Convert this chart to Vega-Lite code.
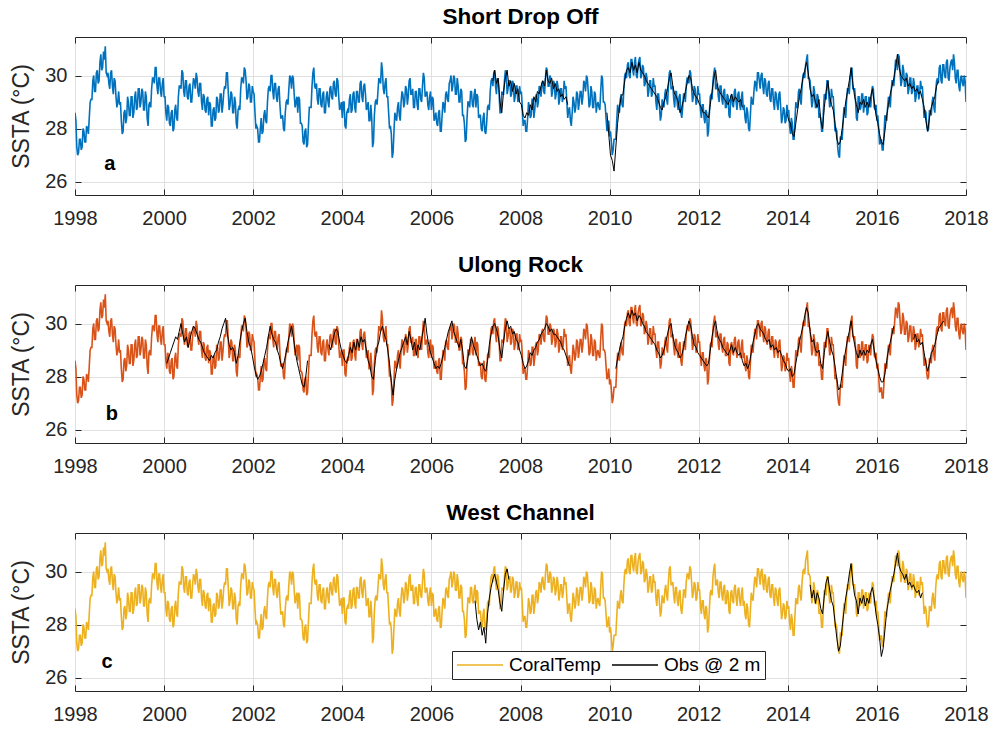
{
"$schema": "https://vega.github.io/schema/vega-lite/v6.json",
"background": "white",
"padding": {"left": 10, "top": 5, "right": 5, "bottom": 0},
"config": {
  "font": "Liberation Sans",
  "view": {"stroke": "#262626", "strokeWidth": 1},
  "axis": {"domain": false, "grid": true, "gridColor": "#e0e0e0", "gridWidth": 1, "tickColor": "#262626", "tickSize": -6, "labelFontSize": 20, "labelColor": "#262626", "titleFontSize": 23, "titleFontWeight": "normal", "titleColor": "#262626", "labelFont": "Liberation Sans", "titleFont": "Liberation Sans", "labelFlush": false},
  "axisX": {"labelPadding": 19},
  "axisY": {"labelPadding": 14, "titlePadding": 11},
  "title": {"fontSize": 22.5, "fontWeight": "bold", "font": "Liberation Sans", "color": "black", "anchor": "middle", "offset": 8},
  "concat": {"spacing": 24}
},
"resolve": {"scale": {"color": "independent"}, "legend": {"color": "independent"}},
"datasets": {
"ct": [
{"t":1998.00,"v":28.6},{"t":1998.04,"v":27.3},{"t":1998.08,"v":27.1},{"t":1998.12,"v":27.6},{"t":1998.16,"v":27.3},{"t":1998.20,"v":27.9},{"t":1998.24,"v":27.5},{"t":1998.28,"v":28.0},{"t":1998.32,"v":28.4},{"t":1998.36,"v":29.1},{"t":1998.40,"v":29.8},{"t":1998.44,"v":29.4},{"t":1998.48,"v":30.1},{"t":1998.52,"v":29.7},{"t":1998.56,"v":30.5},{"t":1998.60,"v":30.2},{"t":1998.64,"v":30.9},{"t":1998.68,"v":31.1},{"t":1998.72,"v":30.0},{"t":1998.76,"v":29.7},{"t":1998.80,"v":30.1},{"t":1998.84,"v":29.6},{"t":1998.88,"v":29.9},{"t":1998.92,"v":29.2},{"t":1998.96,"v":29.0},
{"t":1999.00,"v":28.9},{"t":1999.04,"v":28.3},{"t":1999.08,"v":27.9},{"t":1999.12,"v":28.7},{"t":1999.16,"v":28.4},{"t":1999.20,"v":29.0},{"t":1999.24,"v":28.5},{"t":1999.28,"v":29.2},{"t":1999.32,"v":28.6},{"t":1999.36,"v":29.4},{"t":1999.40,"v":28.8},{"t":1999.44,"v":29.5},{"t":1999.48,"v":29.0},{"t":1999.52,"v":29.4},{"t":1999.56,"v":28.7},{"t":1999.60,"v":29.2},{"t":1999.64,"v":28.1},{"t":1999.68,"v":29.0},{"t":1999.72,"v":29.5},{"t":1999.76,"v":29.9},{"t":1999.80,"v":30.3},{"t":1999.84,"v":29.6},{"t":1999.88,"v":29.9},{"t":1999.92,"v":29.4},{"t":1999.96,"v":29.7},
{"t":2000.00,"v":29.2},{"t":2000.04,"v":28.6},{"t":2000.08,"v":28.9},{"t":2000.12,"v":28.2},{"t":2000.16,"v":28.6},{"t":2000.20,"v":27.9},{"t":2000.24,"v":28.7},{"t":2000.28,"v":28.4},{"t":2000.32,"v":29.2},{"t":2000.36,"v":29.6},{"t":2000.40,"v":30.2},{"t":2000.44,"v":29.4},{"t":2000.48,"v":29.8},{"t":2000.52,"v":29.2},{"t":2000.56,"v":29.6},{"t":2000.60,"v":29.0},{"t":2000.64,"v":29.5},{"t":2000.68,"v":29.8},{"t":2000.72,"v":30.1},{"t":2000.76,"v":29.4},{"t":2000.80,"v":29.7},{"t":2000.84,"v":29.0},{"t":2000.88,"v":29.3},{"t":2000.92,"v":28.7},{"t":2000.96,"v":29.1},
{"t":2001.00,"v":28.5},{"t":2001.04,"v":28.9},{"t":2001.08,"v":28.1},{"t":2001.12,"v":28.8},{"t":2001.16,"v":28.4},{"t":2001.20,"v":29.1},{"t":2001.24,"v":28.7},{"t":2001.28,"v":29.3},{"t":2001.32,"v":28.9},{"t":2001.36,"v":29.6},{"t":2001.40,"v":30.1},{"t":2001.44,"v":29.4},{"t":2001.48,"v":28.9},{"t":2001.52,"v":29.3},{"t":2001.56,"v":28.6},{"t":2001.60,"v":29.0},{"t":2001.64,"v":28.0},{"t":2001.68,"v":28.8},{"t":2001.72,"v":29.5},{"t":2001.76,"v":29.9},{"t":2001.80,"v":30.3},{"t":2001.84,"v":29.8},{"t":2001.88,"v":29.2},{"t":2001.92,"v":29.6},{"t":2001.96,"v":29.0},
{"t":2002.00,"v":29.4},{"t":2002.04,"v":28.6},{"t":2002.08,"v":28.1},{"t":2002.12,"v":27.5},{"t":2002.16,"v":28.0},{"t":2002.20,"v":27.8},{"t":2002.24,"v":28.5},{"t":2002.28,"v":28.3},{"t":2002.32,"v":29.0},{"t":2002.36,"v":29.6},{"t":2002.40,"v":30.0},{"t":2002.44,"v":29.4},{"t":2002.48,"v":29.7},{"t":2002.52,"v":29.2},{"t":2002.56,"v":29.5},{"t":2002.60,"v":28.9},{"t":2002.64,"v":28.4},{"t":2002.68,"v":28.0},{"t":2002.72,"v":28.6},{"t":2002.76,"v":29.1},{"t":2002.80,"v":29.5},{"t":2002.84,"v":29.9},{"t":2002.88,"v":30.0},{"t":2002.92,"v":29.3},{"t":2002.96,"v":29.0},
{"t":2003.00,"v":28.6},{"t":2003.04,"v":29.1},{"t":2003.08,"v":28.2},{"t":2003.12,"v":27.5},{"t":2003.16,"v":27.9},{"t":2003.20,"v":27.3},{"t":2003.24,"v":28.1},{"t":2003.28,"v":28.8},{"t":2003.32,"v":29.6},{"t":2003.36,"v":30.3},{"t":2003.40,"v":29.5},{"t":2003.44,"v":29.1},{"t":2003.48,"v":29.5},{"t":2003.52,"v":28.9},{"t":2003.56,"v":29.3},{"t":2003.60,"v":28.6},{"t":2003.64,"v":29.2},{"t":2003.68,"v":29.0},{"t":2003.72,"v":29.5},{"t":2003.76,"v":29.2},{"t":2003.80,"v":29.7},{"t":2003.84,"v":29.3},{"t":2003.88,"v":29.9},{"t":2003.92,"v":29.2},{"t":2003.96,"v":28.8},
{"t":2004.00,"v":28.4},{"t":2004.04,"v":29.0},{"t":2004.08,"v":28.0},{"t":2004.12,"v":28.7},{"t":2004.16,"v":29.1},{"t":2004.20,"v":28.6},{"t":2004.24,"v":29.3},{"t":2004.28,"v":28.8},{"t":2004.32,"v":29.4},{"t":2004.36,"v":29.0},{"t":2004.40,"v":29.7},{"t":2004.44,"v":29.2},{"t":2004.48,"v":29.6},{"t":2004.52,"v":29.3},{"t":2004.56,"v":28.8},{"t":2004.60,"v":28.3},{"t":2004.64,"v":28.9},{"t":2004.68,"v":27.3},{"t":2004.72,"v":28.5},{"t":2004.76,"v":29.1},{"t":2004.80,"v":29.4},{"t":2004.84,"v":29.8},{"t":2004.88,"v":30.5},{"t":2004.92,"v":29.5},{"t":2004.96,"v":29.7},
{"t":2005.00,"v":29.2},{"t":2005.04,"v":28.6},{"t":2005.08,"v":28.1},{"t":2005.12,"v":26.9},{"t":2005.16,"v":27.9},{"t":2005.20,"v":28.4},{"t":2005.24,"v":28.8},{"t":2005.28,"v":28.5},{"t":2005.32,"v":29.0},{"t":2005.36,"v":29.3},{"t":2005.40,"v":29.0},{"t":2005.44,"v":29.5},{"t":2005.48,"v":29.2},{"t":2005.52,"v":29.9},{"t":2005.56,"v":29.3},{"t":2005.60,"v":28.8},{"t":2005.64,"v":29.4},{"t":2005.68,"v":28.9},{"t":2005.72,"v":29.5},{"t":2005.76,"v":29.1},{"t":2005.80,"v":29.6},{"t":2005.84,"v":29.9},{"t":2005.88,"v":29.3},{"t":2005.92,"v":28.9},{"t":2005.96,"v":29.2},
{"t":2006.00,"v":28.7},{"t":2006.04,"v":29.1},{"t":2006.08,"v":28.4},{"t":2006.12,"v":28.2},{"t":2006.16,"v":28.6},{"t":2006.20,"v":27.9},{"t":2006.24,"v":28.5},{"t":2006.28,"v":28.9},{"t":2006.32,"v":29.3},{"t":2006.36,"v":29.1},{"t":2006.40,"v":29.7},{"t":2006.44,"v":30.0},{"t":2006.48,"v":29.6},{"t":2006.52,"v":29.9},{"t":2006.56,"v":29.3},{"t":2006.60,"v":29.6},{"t":2006.64,"v":29.0},{"t":2006.68,"v":29.4},{"t":2006.72,"v":28.5},{"t":2006.76,"v":27.5},{"t":2006.80,"v":28.4},{"t":2006.84,"v":29.0},{"t":2006.88,"v":29.4},{"t":2006.92,"v":28.9},{"t":2006.96,"v":29.3},
{"t":2007.00,"v":28.8},{"t":2007.04,"v":29.2},{"t":2007.08,"v":28.5},{"t":2007.12,"v":28.0},{"t":2007.16,"v":28.4},{"t":2007.20,"v":27.9},{"t":2007.24,"v":28.2},{"t":2007.28,"v":28.9},{"t":2007.32,"v":29.4},{"t":2007.36,"v":29.9},{"t":2007.40,"v":30.1},{"t":2007.44,"v":29.6},{"t":2007.48,"v":29.9},{"t":2007.52,"v":29.3},{"t":2007.56,"v":28.6},{"t":2007.60,"v":29.3},{"t":2007.64,"v":29.8},{"t":2007.68,"v":30.1},{"t":2007.72,"v":29.5},{"t":2007.76,"v":29.8},{"t":2007.80,"v":29.3},{"t":2007.84,"v":29.7},{"t":2007.88,"v":29.2},{"t":2007.92,"v":29.6},{"t":2007.96,"v":29.1},
{"t":2008.00,"v":29.3},{"t":2008.04,"v":28.8},{"t":2008.08,"v":28.3},{"t":2008.12,"v":27.9},{"t":2008.16,"v":28.4},{"t":2008.20,"v":28.8},{"t":2008.24,"v":28.5},{"t":2008.28,"v":29.1},{"t":2008.32,"v":28.7},{"t":2008.36,"v":29.3},{"t":2008.40,"v":29.0},{"t":2008.44,"v":29.5},{"t":2008.48,"v":29.7},{"t":2008.52,"v":29.4},{"t":2008.56,"v":29.9},{"t":2008.60,"v":30.2},{"t":2008.64,"v":29.6},{"t":2008.68,"v":29.9},{"t":2008.72,"v":29.4},{"t":2008.76,"v":29.7},{"t":2008.80,"v":29.3},{"t":2008.84,"v":29.6},{"t":2008.88,"v":29.1},{"t":2008.92,"v":29.5},{"t":2008.96,"v":29.2},
{"t":2009.00,"v":29.5},{"t":2009.04,"v":29.0},{"t":2009.08,"v":28.7},{"t":2009.12,"v":28.3},{"t":2009.16,"v":28.6},{"t":2009.20,"v":29.0},{"t":2009.24,"v":28.8},{"t":2009.28,"v":29.3},{"t":2009.32,"v":29.0},{"t":2009.36,"v":29.4},{"t":2009.40,"v":29.2},{"t":2009.44,"v":29.7},{"t":2009.48,"v":30.0},{"t":2009.52,"v":29.4},{"t":2009.56,"v":28.9},{"t":2009.60,"v":29.4},{"t":2009.64,"v":28.8},{"t":2009.68,"v":29.3},{"t":2009.72,"v":28.9},{"t":2009.76,"v":28.8},{"t":2009.80,"v":29.4},{"t":2009.84,"v":29.9},{"t":2009.88,"v":29.0},{"t":2009.92,"v":28.4},{"t":2009.96,"v":28.0},
{"t":2010.00,"v":27.7},{"t":2010.04,"v":27.5},{"t":2010.08,"v":27.2},{"t":2010.12,"v":27.6},{"t":2010.16,"v":28.3},{"t":2010.20,"v":28.7},{"t":2010.24,"v":29.1},{"t":2010.28,"v":28.9},{"t":2010.32,"v":29.5},{"t":2010.36,"v":30.1},{"t":2010.40,"v":30.4},{"t":2010.44,"v":30.0},{"t":2010.48,"v":30.6},{"t":2010.52,"v":30.2},{"t":2010.56,"v":30.5},{"t":2010.60,"v":30.0},{"t":2010.64,"v":30.4},{"t":2010.68,"v":30.7},{"t":2010.72,"v":30.0},{"t":2010.76,"v":30.3},{"t":2010.80,"v":29.7},{"t":2010.84,"v":29.9},{"t":2010.88,"v":29.4},{"t":2010.92,"v":29.8},{"t":2010.96,"v":29.3},
{"t":2011.00,"v":29.6},{"t":2011.04,"v":29.0},{"t":2011.08,"v":29.3},{"t":2011.12,"v":28.8},{"t":2011.16,"v":28.5},{"t":2011.20,"v":28.9},{"t":2011.24,"v":29.3},{"t":2011.28,"v":29.1},{"t":2011.32,"v":29.6},{"t":2011.36,"v":30.2},{"t":2011.40,"v":29.5},{"t":2011.44,"v":29.1},{"t":2011.48,"v":29.4},{"t":2011.52,"v":28.9},{"t":2011.56,"v":29.2},{"t":2011.60,"v":28.6},{"t":2011.64,"v":28.8},{"t":2011.68,"v":29.3},{"t":2011.72,"v":29.6},{"t":2011.76,"v":29.9},{"t":2011.80,"v":30.2},{"t":2011.84,"v":29.6},{"t":2011.88,"v":29.2},{"t":2011.92,"v":29.5},{"t":2011.96,"v":29.0},
{"t":2012.00,"v":29.3},{"t":2012.04,"v":28.7},{"t":2012.08,"v":28.9},{"t":2012.12,"v":28.4},{"t":2012.16,"v":28.7},{"t":2012.20,"v":27.7},{"t":2012.24,"v":28.6},{"t":2012.28,"v":29.3},{"t":2012.32,"v":29.8},{"t":2012.36,"v":30.3},{"t":2012.40,"v":29.5},{"t":2012.44,"v":29.2},{"t":2012.48,"v":29.6},{"t":2012.52,"v":29.1},{"t":2012.56,"v":29.4},{"t":2012.60,"v":28.8},{"t":2012.64,"v":29.3},{"t":2012.68,"v":28.5},{"t":2012.72,"v":29.2},{"t":2012.76,"v":28.9},{"t":2012.80,"v":29.4},{"t":2012.84,"v":29.0},{"t":2012.88,"v":29.3},{"t":2012.92,"v":28.9},{"t":2012.96,"v":29.2},
{"t":2013.00,"v":28.7},{"t":2013.04,"v":28.4},{"t":2013.08,"v":28.8},{"t":2013.12,"v":28.0},{"t":2013.16,"v":28.5},{"t":2013.20,"v":29.0},{"t":2013.24,"v":29.4},{"t":2013.28,"v":29.7},{"t":2013.32,"v":30.1},{"t":2013.36,"v":29.8},{"t":2013.40,"v":30.0},{"t":2013.44,"v":29.6},{"t":2013.48,"v":29.9},{"t":2013.52,"v":29.3},{"t":2013.56,"v":29.7},{"t":2013.60,"v":29.1},{"t":2013.64,"v":29.5},{"t":2013.68,"v":29.0},{"t":2013.72,"v":29.4},{"t":2013.76,"v":28.9},{"t":2013.80,"v":29.3},{"t":2013.84,"v":28.8},{"t":2013.88,"v":28.4},{"t":2013.92,"v":28.7},{"t":2013.96,"v":28.3},
{"t":2014.00,"v":28.6},{"t":2014.04,"v":28.1},{"t":2014.08,"v":28.4},{"t":2014.12,"v":27.6},{"t":2014.16,"v":28.3},{"t":2014.20,"v":28.8},{"t":2014.24,"v":29.4},{"t":2014.28,"v":29.1},{"t":2014.32,"v":29.6},{"t":2014.36,"v":30.1},{"t":2014.40,"v":30.4},{"t":2014.44,"v":30.8},{"t":2014.48,"v":29.9},{"t":2014.52,"v":29.3},{"t":2014.56,"v":29.0},{"t":2014.60,"v":29.4},{"t":2014.64,"v":28.8},{"t":2014.68,"v":29.2},{"t":2014.72,"v":28.5},{"t":2014.76,"v":27.9},{"t":2014.80,"v":28.7},{"t":2014.84,"v":29.2},{"t":2014.88,"v":29.8},{"t":2014.92,"v":29.3},{"t":2014.96,"v":28.9},
{"t":2015.00,"v":29.2},{"t":2015.04,"v":28.6},{"t":2015.08,"v":28.0},{"t":2015.12,"v":27.3},{"t":2015.16,"v":26.9},{"t":2015.20,"v":27.6},{"t":2015.24,"v":28.2},{"t":2015.28,"v":28.7},{"t":2015.32,"v":29.1},{"t":2015.36,"v":29.5},{"t":2015.40,"v":29.9},{"t":2015.44,"v":30.3},{"t":2015.48,"v":29.5},{"t":2015.52,"v":29.1},{"t":2015.56,"v":28.3},{"t":2015.60,"v":29.2},{"t":2015.64,"v":28.8},{"t":2015.68,"v":29.3},{"t":2015.72,"v":28.9},{"t":2015.76,"v":29.2},{"t":2015.80,"v":28.6},{"t":2015.84,"v":29.1},{"t":2015.88,"v":29.3},{"t":2015.92,"v":29.5},{"t":2015.96,"v":28.7},
{"t":2016.00,"v":28.3},{"t":2016.04,"v":28.0},{"t":2016.08,"v":27.5},{"t":2016.12,"v":27.2},{"t":2016.16,"v":27.8},{"t":2016.20,"v":28.4},{"t":2016.24,"v":28.8},{"t":2016.28,"v":29.1},{"t":2016.32,"v":29.4},{"t":2016.36,"v":29.8},{"t":2016.40,"v":30.1},{"t":2016.44,"v":30.5},{"t":2016.48,"v":30.8},{"t":2016.52,"v":30.1},{"t":2016.56,"v":29.8},{"t":2016.60,"v":30.2},{"t":2016.64,"v":29.6},{"t":2016.68,"v":30.0},{"t":2016.72,"v":29.5},{"t":2016.76,"v":29.9},{"t":2016.80,"v":29.4},{"t":2016.84,"v":29.7},{"t":2016.88,"v":29.2},{"t":2016.92,"v":29.6},{"t":2016.96,"v":29.3},
{"t":2017.00,"v":29.5},{"t":2017.04,"v":29.0},{"t":2017.08,"v":28.7},{"t":2017.12,"v":28.1},{"t":2017.16,"v":28.0},{"t":2017.20,"v":28.6},{"t":2017.24,"v":29.0},{"t":2017.28,"v":28.8},{"t":2017.32,"v":29.4},{"t":2017.36,"v":29.9},{"t":2017.40,"v":30.3},{"t":2017.44,"v":29.8},{"t":2017.48,"v":30.4},{"t":2017.52,"v":30.0},{"t":2017.56,"v":30.5},{"t":2017.60,"v":29.9},{"t":2017.64,"v":30.3},{"t":2017.68,"v":30.6},{"t":2017.72,"v":30.8},{"t":2017.76,"v":29.9},{"t":2017.80,"v":30.2},{"t":2017.84,"v":29.6},{"t":2017.88,"v":29.9},{"t":2017.92,"v":29.7},{"t":2017.96,"v":30.0},
{"t":2018.00,"v":29.0},
{"t":1998.02,"v":28.3},{"t":1998.06,"v":27.0},{"t":1998.10,"v":27.6},{"t":1998.14,"v":27.2},{"t":1998.18,"v":28.0},{"t":1998.22,"v":27.5},{"t":1998.26,"v":28.1},{"t":1998.30,"v":27.8},{"t":1998.34,"v":29.0},{"t":1998.38,"v":29.1},{"t":1998.42,"v":30.0},{"t":1998.46,"v":29.4},{"t":1998.50,"v":30.2},{"t":1998.54,"v":29.8},{"t":1998.58,"v":30.8},{"t":1998.62,"v":30.3},{"t":1998.66,"v":30.6},{"t":1998.70,"v":30.1},{"t":1998.74,"v":30.1},{"t":1998.78,"v":29.5},{"t":1998.82,"v":30.2},{"t":1998.86,"v":29.3},{"t":1998.90,"v":29.8},{"t":1998.94,"v":28.8},{"t":1998.98,"v":29.4},
{"t":1999.02,"v":29.0},{"t":1999.06,"v":27.8},{"t":1999.10,"v":28.6},{"t":1999.14,"v":28.2},{"t":1999.18,"v":29.2},{"t":1999.22,"v":28.5},{"t":1999.26,"v":29.2},{"t":1999.30,"v":28.4},{"t":1999.34,"v":29.2},{"t":1999.38,"v":28.7},{"t":1999.42,"v":29.5},{"t":1999.46,"v":28.8},{"t":1999.50,"v":29.5},{"t":1999.54,"v":28.7},{"t":1999.58,"v":29.4},{"t":1999.62,"v":28.4},{"t":1999.66,"v":28.9},{"t":1999.70,"v":28.8},{"t":1999.74,"v":29.9},{"t":1999.78,"v":29.7},{"t":1999.82,"v":30.3},{"t":1999.86,"v":29.3},{"t":1999.90,"v":29.9},{"t":1999.94,"v":29.2},{"t":1999.98,"v":29.9},
{"t":2000.02,"v":29.2},{"t":2000.06,"v":28.3},{"t":2000.10,"v":28.8},{"t":2000.14,"v":28.1},{"t":2000.18,"v":28.7},{"t":2000.22,"v":28.0},{"t":2000.26,"v":28.9},{"t":2000.30,"v":28.3},{"t":2000.34,"v":29.6},{"t":2000.38,"v":29.5},{"t":2000.42,"v":30.1},{"t":2000.46,"v":29.2},{"t":2000.50,"v":29.8},{"t":2000.54,"v":29.1},{"t":2000.58,"v":29.7},{"t":2000.62,"v":29.0},{"t":2000.66,"v":29.9},{"t":2000.70,"v":29.5},{"t":2000.74,"v":29.9},{"t":2000.78,"v":29.2},{"t":2000.82,"v":29.7},{"t":2000.86,"v":28.7},{"t":2000.90,"v":29.2},{"t":2000.94,"v":28.6},{"t":2000.98,"v":29.2},
{"t":2001.02,"v":29.0},{"t":2001.06,"v":28.1},{"t":2001.10,"v":28.7},{"t":2001.14,"v":28.3},{"t":2001.18,"v":29.2},{"t":2001.22,"v":28.6},{"t":2001.26,"v":29.3},{"t":2001.30,"v":28.6},{"t":2001.34,"v":29.4},{"t":2001.38,"v":29.5},{"t":2001.42,"v":30.1},{"t":2001.46,"v":28.7},{"t":2001.50,"v":29.4},{"t":2001.54,"v":28.6},{"t":2001.58,"v":29.2},{"t":2001.62,"v":28.2},{"t":2001.66,"v":28.7},{"t":2001.70,"v":28.7},{"t":2001.74,"v":29.9},{"t":2001.78,"v":29.7},{"t":2001.82,"v":30.2},{"t":2001.86,"v":29.1},{"t":2001.90,"v":29.7},{"t":2001.94,"v":29.0},{"t":2001.98,"v":29.6},
{"t":2002.02,"v":29.3},{"t":2002.06,"v":28.0},{"t":2002.10,"v":28.0},{"t":2002.14,"v":27.5},{"t":2002.18,"v":28.4},{"t":2002.22,"v":27.9},{"t":2002.26,"v":28.7},{"t":2002.30,"v":28.2},{"t":2002.34,"v":29.5},{"t":2002.38,"v":29.4},{"t":2002.42,"v":30.0},{"t":2002.46,"v":29.1},{"t":2002.50,"v":29.7},{"t":2002.54,"v":29.0},{"t":2002.58,"v":29.6},{"t":2002.62,"v":28.4},{"t":2002.66,"v":28.5},{"t":2002.70,"v":27.9},{"t":2002.74,"v":29.0},{"t":2002.78,"v":28.9},{"t":2002.82,"v":30.0},{"t":2002.86,"v":29.5},{"t":2002.90,"v":29.9},{"t":2002.94,"v":28.8},{"t":2002.98,"v":29.2},
{"t":2003.02,"v":29.2},{"t":2003.06,"v":28.2},{"t":2003.10,"v":28.1},{"t":2003.14,"v":27.4},{"t":2003.18,"v":28.0},{"t":2003.22,"v":27.4},{"t":2003.26,"v":28.8},{"t":2003.30,"v":28.8},{"t":2003.34,"v":30.1},{"t":2003.38,"v":29.6},{"t":2003.42,"v":29.7},{"t":2003.46,"v":28.9},{"t":2003.50,"v":29.5},{"t":2003.54,"v":28.8},{"t":2003.58,"v":29.4},{"t":2003.62,"v":28.6},{"t":2003.66,"v":29.4},{"t":2003.70,"v":28.8},{"t":2003.74,"v":29.6},{"t":2003.78,"v":29.1},{"t":2003.82,"v":29.8},{"t":2003.86,"v":29.2},{"t":2003.90,"v":29.8},{"t":2003.94,"v":28.7},{"t":2003.98,"v":29.0},
{"t":2004.02,"v":29.0},{"t":2004.06,"v":28.1},{"t":2004.10,"v":28.6},{"t":2004.14,"v":28.6},{"t":2004.18,"v":29.3},{"t":2004.22,"v":28.7},{"t":2004.26,"v":29.4},{"t":2004.30,"v":28.6},{"t":2004.34,"v":29.4},{"t":2004.38,"v":29.0},{"t":2004.42,"v":29.8},{"t":2004.46,"v":29.0},{"t":2004.50,"v":29.7},{"t":2004.54,"v":28.7},{"t":2004.58,"v":29.0},{"t":2004.62,"v":28.3},{"t":2004.66,"v":28.4},{"t":2004.70,"v":27.5},{"t":2004.74,"v":29.0},{"t":2004.78,"v":28.9},{"t":2004.82,"v":29.9},{"t":2004.86,"v":29.7},{"t":2004.90,"v":30.2},{"t":2004.94,"v":29.3},{"t":2004.98,"v":29.9},
{"t":2005.02,"v":29.2},{"t":2005.06,"v":28.0},{"t":2005.10,"v":27.8},{"t":2005.14,"v":27.1},{"t":2005.18,"v":28.6},{"t":2005.22,"v":28.3},{"t":2005.26,"v":29.0},{"t":2005.30,"v":28.3},{"t":2005.34,"v":29.4},{"t":2005.38,"v":28.8},{"t":2005.42,"v":29.6},{"t":2005.46,"v":28.9},{"t":2005.50,"v":29.8},{"t":2005.54,"v":29.3},{"t":2005.58,"v":29.5},{"t":2005.62,"v":28.8},{"t":2005.66,"v":29.4},{"t":2005.70,"v":28.7},{"t":2005.74,"v":29.5},{"t":2005.78,"v":29.0},{"t":2005.82,"v":30.1},{"t":2005.86,"v":29.2},{"t":2005.90,"v":29.4},{"t":2005.94,"v":28.7},{"t":2005.98,"v":29.4},
{"t":2006.02,"v":29.2},{"t":2006.06,"v":28.3},{"t":2006.10,"v":28.6},{"t":2006.14,"v":28.1},{"t":2006.18,"v":28.7},{"t":2006.22,"v":27.9},{"t":2006.26,"v":29.0},{"t":2006.30,"v":28.6},{"t":2006.34,"v":29.4},{"t":2006.38,"v":29.0},{"t":2006.42,"v":29.8},{"t":2006.46,"v":29.4},{"t":2006.50,"v":30.0},{"t":2006.54,"v":29.3},{"t":2006.58,"v":29.9},{"t":2006.62,"v":29.0},{"t":2006.66,"v":29.5},{"t":2006.70,"v":28.5},{"t":2006.74,"v":28.2},{"t":2006.78,"v":27.6},{"t":2006.82,"v":29.0},{"t":2006.86,"v":28.8},{"t":2006.90,"v":29.4},{"t":2006.94,"v":28.8},{"t":2006.98,"v":29.5},
{"t":2007.02,"v":29.3},{"t":2007.06,"v":28.4},{"t":2007.10,"v":28.5},{"t":2007.14,"v":27.9},{"t":2007.18,"v":28.6},{"t":2007.22,"v":27.8},{"t":2007.26,"v":28.8},{"t":2007.30,"v":28.7},{"t":2007.34,"v":29.8},{"t":2007.38,"v":29.6},{"t":2007.42,"v":30.2},{"t":2007.46,"v":29.3},{"t":2007.50,"v":29.8},{"t":2007.54,"v":28.6},{"t":2007.58,"v":29.4},{"t":2007.62,"v":29.3},{"t":2007.66,"v":30.2},{"t":2007.70,"v":29.3},{"t":2007.74,"v":29.8},{"t":2007.78,"v":29.2},{"t":2007.82,"v":29.8},{"t":2007.86,"v":29.0},{"t":2007.90,"v":29.6},{"t":2007.94,"v":29.0},{"t":2007.98,"v":29.6},
{"t":2008.02,"v":29.4},{"t":2008.06,"v":28.1},{"t":2008.10,"v":28.3},{"t":2008.14,"v":27.9},{"t":2008.18,"v":29.0},{"t":2008.22,"v":28.4},{"t":2008.26,"v":29.1},{"t":2008.30,"v":28.4},{"t":2008.34,"v":29.2},{"t":2008.38,"v":28.8},{"t":2008.42,"v":29.6},{"t":2008.46,"v":29.2},{"t":2008.50,"v":29.8},{"t":2008.54,"v":29.3},{"t":2008.58,"v":30.3},{"t":2008.62,"v":29.6},{"t":2008.66,"v":30.0},{"t":2008.70,"v":29.2},{"t":2008.74,"v":29.8},{"t":2008.78,"v":29.1},{"t":2008.82,"v":29.8},{"t":2008.86,"v":28.9},{"t":2008.90,"v":29.5},{"t":2008.94,"v":29.0},{"t":2008.98,"v":29.8},
{"t":2009.02,"v":29.6},{"t":2009.06,"v":28.4},{"t":2009.10,"v":28.8},{"t":2009.14,"v":28.1},{"t":2009.18,"v":29.2},{"t":2009.22,"v":28.6},{"t":2009.26,"v":29.4},{"t":2009.30,"v":28.7},{"t":2009.34,"v":29.4},{"t":2009.38,"v":28.9},{"t":2009.42,"v":29.8},{"t":2009.46,"v":29.4},{"t":2009.50,"v":29.9},{"t":2009.54,"v":28.8},{"t":2009.58,"v":29.6},{"t":2009.62,"v":28.8},{"t":2009.66,"v":29.4},{"t":2009.70,"v":28.6},{"t":2009.74,"v":29.0},{"t":2009.78,"v":28.7},{"t":2009.82,"v":30.0},{"t":2009.86,"v":29.0},{"t":2009.90,"v":28.9},{"t":2009.94,"v":27.9},{"t":2009.98,"v":28.3},
{"t":2010.02,"v":27.9},{"t":2010.06,"v":27.0},{"t":2010.10,"v":27.6},{"t":2010.14,"v":27.6},{"t":2010.18,"v":28.9},{"t":2010.22,"v":28.6},{"t":2010.26,"v":29.3},{"t":2010.30,"v":28.8},{"t":2010.34,"v":30.0},{"t":2010.38,"v":29.9},{"t":2010.42,"v":30.5},{"t":2010.46,"v":29.9},{"t":2010.50,"v":30.6},{"t":2010.54,"v":30.0},{"t":2010.58,"v":30.7},{"t":2010.62,"v":29.9},{"t":2010.66,"v":30.6},{"t":2010.70,"v":29.9},{"t":2010.74,"v":30.4},{"t":2010.78,"v":29.6},{"t":2010.82,"v":30.1},{"t":2010.86,"v":29.2},{"t":2010.90,"v":29.8},{"t":2010.94,"v":29.2},{"t":2010.98,"v":29.9},
{"t":2011.02,"v":29.6},{"t":2011.06,"v":28.7},{"t":2011.10,"v":29.3},{"t":2011.14,"v":28.3},{"t":2011.18,"v":29.1},{"t":2011.22,"v":28.8},{"t":2011.26,"v":29.5},{"t":2011.30,"v":28.9},{"t":2011.34,"v":30.1},{"t":2011.38,"v":29.5},{"t":2011.42,"v":29.6},{"t":2011.46,"v":28.8},{"t":2011.50,"v":29.4},{"t":2011.54,"v":28.7},{"t":2011.58,"v":29.3},{"t":2011.62,"v":28.4},{"t":2011.66,"v":29.3},{"t":2011.70,"v":29.0},{"t":2011.74,"v":29.9},{"t":2011.78,"v":29.7},{"t":2011.82,"v":30.1},{"t":2011.86,"v":29.0},{"t":2011.90,"v":29.6},{"t":2011.94,"v":28.9},{"t":2011.98,"v":29.6},
{"t":2012.02,"v":29.3},{"t":2012.06,"v":28.4},{"t":2012.10,"v":28.9},{"t":2012.14,"v":28.2},{"t":2012.18,"v":28.6},{"t":2012.22,"v":27.9},{"t":2012.26,"v":29.2},{"t":2012.30,"v":29.1},{"t":2012.34,"v":30.1},{"t":2012.38,"v":29.5},{"t":2012.42,"v":29.7},{"t":2012.46,"v":29.0},{"t":2012.50,"v":29.6},{"t":2012.54,"v":28.9},{"t":2012.58,"v":29.5},{"t":2012.62,"v":28.8},{"t":2012.66,"v":29.2},{"t":2012.70,"v":28.4},{"t":2012.74,"v":29.3},{"t":2012.78,"v":28.8},{"t":2012.82,"v":29.5},{"t":2012.86,"v":28.7},{"t":2012.90,"v":29.4},{"t":2012.94,"v":28.7},{"t":2012.98,"v":29.4},
{"t":2013.02,"v":28.9},{"t":2013.06,"v":28.2},{"t":2013.10,"v":28.6},{"t":2013.14,"v":27.9},{"t":2013.18,"v":29.2},{"t":2013.22,"v":28.9},{"t":2013.26,"v":29.8},{"t":2013.30,"v":29.4},{"t":2013.34,"v":30.1},{"t":2013.38,"v":29.5},{"t":2013.42,"v":30.1},{"t":2013.46,"v":29.3},{"t":2013.50,"v":29.8},{"t":2013.54,"v":29.2},{"t":2013.58,"v":29.8},{"t":2013.62,"v":29.0},{"t":2013.66,"v":29.5},{"t":2013.70,"v":28.7},{"t":2013.74,"v":29.3},{"t":2013.78,"v":28.7},{"t":2013.82,"v":29.4},{"t":2013.86,"v":28.2},{"t":2013.90,"v":28.8},{"t":2013.94,"v":28.2},{"t":2013.98,"v":28.9},
{"t":2014.02,"v":28.7},{"t":2014.06,"v":27.8},{"t":2014.10,"v":28.2},{"t":2014.14,"v":27.6},{"t":2014.18,"v":29.0},{"t":2014.22,"v":28.8},{"t":2014.26,"v":29.5},{"t":2014.30,"v":28.9},{"t":2014.34,"v":30.0},{"t":2014.38,"v":29.9},{"t":2014.42,"v":30.6},{"t":2014.46,"v":29.9},{"t":2014.50,"v":29.8},{"t":2014.54,"v":28.8},{"t":2014.58,"v":29.6},{"t":2014.62,"v":28.8},{"t":2014.66,"v":29.3},{"t":2014.70,"v":28.4},{"t":2014.74,"v":28.4},{"t":2014.78,"v":27.9},{"t":2014.82,"v":29.3},{"t":2014.86,"v":29.1},{"t":2014.90,"v":29.8},{"t":2014.94,"v":28.8},{"t":2014.98,"v":29.5},
{"t":2015.02,"v":29.2},{"t":2015.06,"v":27.9},{"t":2015.10,"v":27.9},{"t":2015.14,"v":27.0},{"t":2015.18,"v":27.7},{"t":2015.22,"v":27.6},{"t":2015.26,"v":28.8},{"t":2015.30,"v":28.4},{"t":2015.34,"v":29.5},{"t":2015.38,"v":29.3},{"t":2015.42,"v":30.1},{"t":2015.46,"v":29.5},{"t":2015.50,"v":29.5},{"t":2015.54,"v":28.4},{"t":2015.58,"v":29.2},{"t":2015.62,"v":28.7},{"t":2015.66,"v":29.3},{"t":2015.70,"v":28.6},{"t":2015.74,"v":29.2},{"t":2015.78,"v":28.5},{"t":2015.82,"v":29.2},{"t":2015.86,"v":28.8},{"t":2015.90,"v":29.6},{"t":2015.94,"v":28.8},{"t":2015.98,"v":28.9},
{"t":2016.02,"v":28.5},{"t":2016.06,"v":27.4},{"t":2016.10,"v":27.6},{"t":2016.14,"v":27.2},{"t":2016.18,"v":28.5},{"t":2016.22,"v":28.3},{"t":2016.26,"v":29.2},{"t":2016.30,"v":28.8},{"t":2016.34,"v":29.8},{"t":2016.38,"v":29.6},{"t":2016.42,"v":30.6},{"t":2016.46,"v":30.2},{"t":2016.50,"v":30.7},{"t":2016.54,"v":29.6},{"t":2016.58,"v":30.4},{"t":2016.62,"v":29.6},{"t":2016.66,"v":30.1},{"t":2016.70,"v":29.3},{"t":2016.74,"v":29.9},{"t":2016.78,"v":29.3},{"t":2016.82,"v":29.9},{"t":2016.86,"v":29.0},{"t":2016.90,"v":29.6},{"t":2016.94,"v":29.1},{"t":2016.98,"v":29.8},
{"t":2017.02,"v":29.6},{"t":2017.06,"v":28.4},{"t":2017.10,"v":28.6},{"t":2017.14,"v":27.9},{"t":2017.18,"v":28.7},{"t":2017.22,"v":28.5},{"t":2017.26,"v":29.2},{"t":2017.30,"v":28.6},{"t":2017.34,"v":29.8},{"t":2017.38,"v":29.7},{"t":2017.42,"v":30.4},{"t":2017.46,"v":29.7},{"t":2017.50,"v":30.4},{"t":2017.54,"v":29.9},{"t":2017.58,"v":30.6},{"t":2017.62,"v":29.8},{"t":2017.66,"v":30.5},{"t":2017.70,"v":30.2},{"t":2017.74,"v":30.5},{"t":2017.78,"v":29.7},{"t":2017.82,"v":30.2},{"t":2017.86,"v":29.4},{"t":2017.90,"v":30.0},{"t":2017.94,"v":29.6},{"t":2017.98,"v":29.8}
],
"sdo": [
{"t":2007.38,"v":29.8,"s":1},{"t":2007.42,"v":30.2,"s":1},{"t":2007.46,"v":29.7,"s":1},{"t":2007.50,"v":29.9,"s":1},{"t":2007.54,"v":29.0,"s":1},{"t":2007.58,"v":28.6,"s":1},{"t":2007.62,"v":29.4,"s":1},{"t":2007.66,"v":29.9,"s":1},{"t":2007.70,"v":30.2,"s":1},{"t":2007.74,"v":29.6,"s":1},{"t":2007.78,"v":29.8,"s":1},{"t":2007.82,"v":29.4,"s":1},{"t":2007.86,"v":29.7,"s":1},{"t":2007.90,"v":29.3,"s":1},{"t":2007.94,"v":29.5,"s":1},{"t":2007.98,"v":29.0,"s":1},
{"t":2008.02,"v":28.9,"s":1},{"t":2008.06,"v":28.5,"s":1},{"t":2008.10,"v":28.4,"s":1},{"t":2008.14,"v":28.6,"s":1},{"t":2008.18,"v":28.5,"s":1},{"t":2008.22,"v":28.9,"s":1},{"t":2008.26,"v":28.7,"s":1},{"t":2008.30,"v":29.2,"s":1},{"t":2008.34,"v":29.0,"s":1},{"t":2008.38,"v":29.4,"s":1},{"t":2008.42,"v":29.3,"s":1},{"t":2008.46,"v":29.6,"s":1},{"t":2008.50,"v":29.8,"s":1},{"t":2008.54,"v":29.6,"s":1},{"t":2008.58,"v":30.2,"s":1},{"t":2008.62,"v":29.8,"s":1},{"t":2008.66,"v":29.7,"s":1},{"t":2008.70,"v":29.9,"s":1},{"t":2008.74,"v":29.5,"s":1},{"t":2008.78,"v":29.7,"s":1},{"t":2008.82,"v":29.4,"s":1},{"t":2008.86,"v":29.5,"s":1},{"t":2008.90,"v":29.2,"s":1},{"t":2008.94,"v":29.3,"s":1},{"t":2008.98,"v":29.1,"s":1},{"t":2009.02,"v":29.2,"s":1},{"t":2009.06,"v":28.9,"s":1},
{"t":2009.94,"v":28.6,"s":2},{"t":2009.98,"v":27.8,"s":2},{"t":2010.02,"v":27.0,"s":2},{"t":2010.06,"v":26.8,"s":2},{"t":2010.10,"v":26.4,"s":2},{"t":2010.14,"v":27.3,"s":2},{"t":2010.18,"v":28.2,"s":2},{"t":2010.22,"v":28.8,"s":2},{"t":2010.26,"v":29.2,"s":2},{"t":2010.30,"v":29.3,"s":2},{"t":2010.34,"v":29.8,"s":2},{"t":2010.38,"v":30.2,"s":2},{"t":2010.42,"v":30.3,"s":2},{"t":2010.46,"v":30.1,"s":2},{"t":2010.50,"v":30.5,"s":2},{"t":2010.54,"v":30.2,"s":2},{"t":2010.58,"v":30.4,"s":2},{"t":2010.62,"v":30.1,"s":2},{"t":2010.66,"v":30.5,"s":2},{"t":2010.70,"v":30.2,"s":2},{"t":2010.74,"v":30.1,"s":2},{"t":2010.78,"v":30.0,"s":2},{"t":2010.82,"v":29.8,"s":2},{"t":2010.86,"v":29.7,"s":2},{"t":2010.90,"v":29.6,"s":2},{"t":2010.94,"v":29.5,"s":2},{"t":2010.98,"v":29.4,"s":2},
{"t":2011.02,"v":29.3,"s":2},{"t":2011.06,"v":29.2,"s":2},{"t":2011.10,"v":29.0,"s":2},{"t":2011.14,"v":28.8,"s":2},{"t":2011.18,"v":28.7,"s":2},{"t":2011.22,"v":29.0,"s":2},{"t":2011.26,"v":29.2,"s":2},{"t":2011.30,"v":29.5,"s":2},{"t":2011.34,"v":29.9,"s":2},{"t":2011.38,"v":30.1,"s":2},{"t":2011.42,"v":29.6,"s":2},{"t":2011.46,"v":29.3,"s":2},{"t":2011.50,"v":29.2,"s":2},{"t":2011.54,"v":29.0,"s":2},{"t":2011.58,"v":28.6,"s":2},{"t":2011.62,"v":28.8,"s":2},{"t":2011.66,"v":29.1,"s":2},{"t":2011.70,"v":29.4,"s":2},{"t":2011.74,"v":29.7,"s":2},{"t":2011.78,"v":30.0,"s":2},{"t":2011.82,"v":29.9,"s":2},{"t":2011.86,"v":29.5,"s":2},{"t":2011.90,"v":29.3,"s":2},{"t":2011.94,"v":29.2,"s":2},{"t":2011.98,"v":29.1,"s":2},
{"t":2012.02,"v":28.9,"s":2},{"t":2012.06,"v":28.8,"s":2},{"t":2012.10,"v":28.6,"s":2},{"t":2012.14,"v":28.6,"s":2},{"t":2012.18,"v":28.5,"s":2},{"t":2012.22,"v":28.4,"s":2},{"t":2012.26,"v":28.9,"s":2},{"t":2012.30,"v":29.4,"s":2},{"t":2012.34,"v":29.9,"s":2},{"t":2012.38,"v":30.2,"s":2},{"t":2012.42,"v":29.6,"s":2},{"t":2012.46,"v":29.4,"s":2},{"t":2012.50,"v":29.3,"s":2},{"t":2012.54,"v":29.2,"s":2},{"t":2012.58,"v":29.1,"s":2},{"t":2012.62,"v":29.0,"s":2},{"t":2012.66,"v":28.9,"s":2},{"t":2012.70,"v":29.1,"s":2},{"t":2012.74,"v":29.3,"s":2},{"t":2012.78,"v":29.0,"s":2},{"t":2012.82,"v":29.2,"s":2},{"t":2012.86,"v":29.1,"s":2},{"t":2012.90,"v":29.0,"s":2},{"t":2012.94,"v":29.1,"s":2},{"t":2012.98,"v":28.8,"s":2},
{"t":2013.98,"v":28.6,"s":3},{"t":2014.02,"v":28.3,"s":3},{"t":2014.06,"v":28.2,"s":3},{"t":2014.10,"v":27.8,"s":3},{"t":2014.14,"v":27.7,"s":3},{"t":2014.18,"v":28.2,"s":3},{"t":2014.22,"v":28.7,"s":3},{"t":2014.26,"v":29.2,"s":3},{"t":2014.30,"v":29.5,"s":3},{"t":2014.34,"v":29.9,"s":3},{"t":2014.38,"v":30.2,"s":3},{"t":2014.42,"v":30.5,"s":3},{"t":2014.46,"v":30.1,"s":3},{"t":2014.50,"v":29.5,"s":3},{"t":2014.54,"v":29.2,"s":3},{"t":2014.58,"v":29.3,"s":3},{"t":2014.62,"v":29.0,"s":3},{"t":2014.66,"v":28.8,"s":3},{"t":2014.70,"v":29.1,"s":3},{"t":2014.74,"v":28.3,"s":3},{"t":2014.78,"v":28.0,"s":3},{"t":2014.82,"v":28.8,"s":3},{"t":2014.86,"v":29.4,"s":3},{"t":2014.90,"v":29.8,"s":3},{"t":2014.94,"v":29.2,"s":3},{"t":2014.98,"v":28.9,"s":3},
{"t":2015.02,"v":28.7,"s":3},{"t":2015.06,"v":28.2,"s":3},{"t":2015.10,"v":27.6,"s":3},{"t":2015.14,"v":27.4,"s":3},{"t":2015.18,"v":27.5,"s":3},{"t":2015.22,"v":28.0,"s":3},{"t":2015.26,"v":28.5,"s":3},{"t":2015.30,"v":29.0,"s":3},{"t":2015.34,"v":29.4,"s":3},{"t":2015.38,"v":29.8,"s":3},{"t":2015.42,"v":30.3,"s":3},{"t":2015.46,"v":29.7,"s":3},{"t":2015.50,"v":29.2,"s":3},{"t":2015.54,"v":28.9,"s":3},{"t":2015.58,"v":28.6,"s":3},{"t":2015.62,"v":29.0,"s":3},{"t":2015.66,"v":28.9,"s":3},{"t":2015.70,"v":29.1,"s":3},{"t":2015.74,"v":28.8,"s":3},{"t":2015.78,"v":29.0,"s":3},{"t":2015.82,"v":28.8,"s":3},{"t":2015.86,"v":29.2,"s":3},{"t":2015.90,"v":29.5,"s":3},{"t":2015.94,"v":29.0,"s":3},{"t":2015.98,"v":28.5,"s":3},
{"t":2016.02,"v":28.2,"s":3},{"t":2016.06,"v":27.8,"s":3},{"t":2016.10,"v":27.5,"s":3},{"t":2016.14,"v":27.4,"s":3},{"t":2016.18,"v":27.9,"s":3},{"t":2016.22,"v":28.5,"s":3},{"t":2016.26,"v":28.9,"s":3},{"t":2016.30,"v":29.3,"s":3},{"t":2016.34,"v":29.6,"s":3},{"t":2016.38,"v":29.9,"s":3},{"t":2016.42,"v":30.3,"s":3},{"t":2016.46,"v":30.8,"s":3},{"t":2016.50,"v":30.3,"s":3},{"t":2016.54,"v":30.0,"s":3},{"t":2016.58,"v":29.9,"s":3},{"t":2016.62,"v":29.8,"s":3},{"t":2016.66,"v":29.9,"s":3},{"t":2016.70,"v":29.6,"s":3},{"t":2016.74,"v":29.7,"s":3},{"t":2016.78,"v":29.5,"s":3},{"t":2016.82,"v":29.6,"s":3},{"t":2016.86,"v":29.4,"s":3},{"t":2016.90,"v":29.5,"s":3},{"t":2016.94,"v":29.3,"s":3},{"t":2016.98,"v":29.4,"s":3},
{"t":2017.02,"v":29.1,"s":3},{"t":2017.06,"v":28.8,"s":3},{"t":2017.10,"v":28.3,"s":3},{"t":2017.14,"v":27.9,"s":3},{"t":2017.18,"v":28.4,"s":3},{"t":2017.22,"v":28.8,"s":3},{"t":2017.26,"v":29.0,"s":3},{"t":2017.30,"v":29.2,"s":3},{"t":2017.34,"v":29.6,"s":3},{"t":2017.38,"v":29.8,"s":3}
],
"ul": [
{"t":2000.06,"v":28.5,"s":1},{"t":2000.10,"v":28.7,"s":1},{"t":2000.14,"v":28.9,"s":1},{"t":2000.18,"v":29.1,"s":1},{"t":2000.22,"v":29.3,"s":1},{"t":2000.26,"v":29.5,"s":1},{"t":2000.30,"v":29.4,"s":1},{"t":2000.34,"v":29.7,"s":1},{"t":2000.38,"v":30.0,"s":1},{"t":2000.42,"v":29.6,"s":1},{"t":2000.46,"v":29.3,"s":1},{"t":2000.50,"v":29.5,"s":1},{"t":2000.54,"v":29.1,"s":1},{"t":2000.58,"v":29.4,"s":1},{"t":2000.62,"v":29.7,"s":1},{"t":2000.66,"v":29.9,"s":1},{"t":2000.70,"v":29.8,"s":1},{"t":2000.74,"v":29.6,"s":1},{"t":2000.78,"v":29.4,"s":1},{"t":2000.82,"v":29.3,"s":1},{"t":2000.86,"v":29.1,"s":1},{"t":2000.90,"v":28.9,"s":1},{"t":2000.94,"v":28.8,"s":1},{"t":2000.98,"v":28.7,"s":1},
{"t":2001.02,"v":28.6,"s":1},{"t":2001.06,"v":28.8,"s":1},{"t":2001.10,"v":28.7,"s":1},{"t":2001.14,"v":28.9,"s":1},{"t":2001.18,"v":29.0,"s":1},{"t":2001.22,"v":29.3,"s":1},{"t":2001.26,"v":29.5,"s":1},{"t":2001.30,"v":29.8,"s":1},{"t":2001.34,"v":30.0,"s":1},{"t":2001.38,"v":30.2,"s":1},{"t":2001.42,"v":29.6,"s":1},{"t":2001.46,"v":29.2,"s":1},{"t":2001.50,"v":29.0,"s":1},{"t":2001.54,"v":29.1,"s":1},{"t":2001.58,"v":28.9,"s":1},{"t":2001.62,"v":28.5,"s":1},{"t":2001.66,"v":28.8,"s":1},{"t":2001.70,"v":29.3,"s":1},{"t":2001.74,"v":29.7,"s":1},{"t":2001.78,"v":30.0,"s":1},{"t":2001.82,"v":30.2,"s":1},{"t":2001.86,"v":29.7,"s":1},{"t":2001.90,"v":29.3,"s":1},{"t":2001.94,"v":29.1,"s":1},{"t":2001.98,"v":28.8,"s":1},
{"t":2002.02,"v":28.4,"s":1},{"t":2002.06,"v":28.1,"s":1},{"t":2002.10,"v":27.9,"s":1},{"t":2002.14,"v":28.0,"s":1},{"t":2002.18,"v":28.2,"s":1},{"t":2002.22,"v":28.5,"s":1},{"t":2002.26,"v":28.8,"s":1},{"t":2002.30,"v":29.1,"s":1},{"t":2002.34,"v":29.5,"s":1},{"t":2002.38,"v":29.9,"s":1},{"t":2002.42,"v":29.6,"s":1},{"t":2002.46,"v":29.4,"s":1},{"t":2002.50,"v":29.3,"s":1},{"t":2002.54,"v":29.0,"s":1},{"t":2002.58,"v":28.8,"s":1},{"t":2002.62,"v":28.5,"s":1},{"t":2002.66,"v":28.3,"s":1},{"t":2002.70,"v":28.6,"s":1},{"t":2002.74,"v":28.9,"s":1},{"t":2002.78,"v":29.3,"s":1},{"t":2002.82,"v":29.6,"s":1},{"t":2002.86,"v":29.9,"s":1},{"t":2002.90,"v":29.5,"s":1},{"t":2002.94,"v":29.0,"s":1},{"t":2002.98,"v":28.6,"s":1},
{"t":2003.02,"v":28.3,"s":1},{"t":2003.06,"v":28.0,"s":1},{"t":2003.10,"v":27.7,"s":1},{"t":2003.14,"v":27.6,"s":1},{"t":2003.18,"v":28.0,"s":1},{"t":2003.22,"v":28.6,"s":1},
{"t":2003.70,"v":29.2,"s":2},{"t":2003.74,"v":29.0,"s":2},{"t":2003.78,"v":29.3,"s":2},{"t":2003.82,"v":29.6,"s":2},{"t":2003.86,"v":29.8,"s":2},{"t":2003.90,"v":29.7,"s":2},{"t":2003.94,"v":29.3,"s":2},{"t":2003.98,"v":29.0,"s":2},
{"t":2004.02,"v":28.8,"s":2},{"t":2004.06,"v":28.6,"s":2},{"t":2004.10,"v":28.5,"s":2},{"t":2004.14,"v":28.8,"s":2},{"t":2004.18,"v":29.1,"s":2},{"t":2004.22,"v":28.9,"s":2},{"t":2004.26,"v":29.3,"s":2},{"t":2004.30,"v":29.0,"s":2},{"t":2004.34,"v":29.4,"s":2},{"t":2004.38,"v":29.1,"s":2},{"t":2004.42,"v":29.5,"s":2},{"t":2004.46,"v":29.3,"s":2},{"t":2004.50,"v":29.4,"s":2},{"t":2004.54,"v":29.0,"s":2},{"t":2004.58,"v":28.6,"s":2},{"t":2004.62,"v":28.4,"s":2},{"t":2004.66,"v":28.0,"s":2},{"t":2004.70,"v":27.9,"s":2},{"t":2004.74,"v":28.6,"s":2},{"t":2004.78,"v":29.1,"s":2},{"t":2004.82,"v":29.3,"s":2},{"t":2004.86,"v":29.7,"s":2},{"t":2004.90,"v":29.9,"s":2},{"t":2004.94,"v":29.6,"s":2},{"t":2004.98,"v":29.4,"s":2},
{"t":2005.02,"v":29.0,"s":2},{"t":2005.06,"v":28.5,"s":2},{"t":2005.10,"v":27.8,"s":2},{"t":2005.14,"v":27.3,"s":2},{"t":2005.18,"v":27.9,"s":2},{"t":2005.22,"v":28.3,"s":2},{"t":2005.26,"v":28.6,"s":2},{"t":2005.30,"v":28.9,"s":2},{"t":2005.34,"v":29.1,"s":2},{"t":2005.38,"v":29.3,"s":2},{"t":2005.42,"v":29.5,"s":2},{"t":2005.46,"v":29.2,"s":2},{"t":2005.50,"v":29.7,"s":2},{"t":2005.54,"v":29.4,"s":2},{"t":2005.58,"v":29.0,"s":2},{"t":2005.62,"v":29.3,"s":2},{"t":2005.66,"v":28.8,"s":2},{"t":2005.70,"v":29.2,"s":2},{"t":2005.74,"v":29.0,"s":2},{"t":2005.78,"v":29.4,"s":2},{"t":2005.82,"v":29.8,"s":2},{"t":2005.86,"v":30.2,"s":2},{"t":2005.90,"v":29.6,"s":2},{"t":2005.94,"v":29.2,"s":2},{"t":2005.98,"v":28.9,"s":2},
{"t":2006.02,"v":28.7,"s":2},{"t":2006.06,"v":28.5,"s":2},{"t":2006.10,"v":28.3,"s":2},{"t":2006.14,"v":28.4,"s":2},{"t":2006.18,"v":28.3,"s":2},{"t":2006.22,"v":28.5,"s":2},{"t":2006.26,"v":28.8,"s":2},{"t":2006.30,"v":29.1,"s":2},{"t":2006.34,"v":29.4,"s":2},{"t":2006.38,"v":29.7,"s":2},{"t":2006.42,"v":29.9,"s":2},{"t":2006.46,"v":30.1,"s":2},{"t":2006.50,"v":29.7,"s":2},{"t":2006.54,"v":29.5,"s":2},{"t":2006.58,"v":29.3,"s":2},{"t":2006.62,"v":29.1,"s":2},{"t":2006.66,"v":29.4,"s":2},{"t":2006.70,"v":29.0,"s":2},{"t":2006.74,"v":28.4,"s":2},{"t":2006.78,"v":28.3,"s":2},{"t":2006.82,"v":28.7,"s":2},{"t":2006.86,"v":29.1,"s":2},{"t":2006.90,"v":29.5,"s":2},{"t":2006.94,"v":29.2,"s":2},{"t":2006.98,"v":29.0,"s":2},
{"t":2007.02,"v":28.8,"s":2},{"t":2007.06,"v":28.6,"s":2},{"t":2007.10,"v":28.4,"s":2},{"t":2007.14,"v":28.5,"s":2},{"t":2007.18,"v":28.3,"s":2},{"t":2007.22,"v":28.2,"s":2},{"t":2007.26,"v":28.6,"s":2},{"t":2007.30,"v":29.2,"s":2},{"t":2007.34,"v":29.6,"s":2},{"t":2007.38,"v":29.9,"s":2},{"t":2007.42,"v":30.0,"s":2},{"t":2007.46,"v":29.8,"s":2},{"t":2007.50,"v":29.5,"s":2},{"t":2007.54,"v":29.0,"s":2},{"t":2007.58,"v":28.7,"s":2},{"t":2007.62,"v":29.3,"s":2},{"t":2007.66,"v":29.8,"s":2},{"t":2007.70,"v":30.1,"s":2},{"t":2007.74,"v":29.8,"s":2},{"t":2007.78,"v":29.9,"s":2},{"t":2007.82,"v":29.6,"s":2},{"t":2007.86,"v":29.7,"s":2},{"t":2007.90,"v":29.4,"s":2},{"t":2007.94,"v":29.3,"s":2},{"t":2007.98,"v":29.0,"s":2},
{"t":2008.02,"v":28.8,"s":2},{"t":2008.06,"v":28.5,"s":2},{"t":2008.10,"v":28.3,"s":2},{"t":2008.14,"v":28.4,"s":2},{"t":2008.18,"v":28.6,"s":2},{"t":2008.22,"v":28.9,"s":2},{"t":2008.26,"v":28.8,"s":2},{"t":2008.30,"v":29.0,"s":2},{"t":2008.34,"v":29.1,"s":2},{"t":2008.38,"v":29.3,"s":2},{"t":2008.42,"v":29.4,"s":2},{"t":2008.46,"v":29.6,"s":2},{"t":2008.50,"v":29.7,"s":2},{"t":2008.54,"v":29.8,"s":2},{"t":2008.58,"v":30.0,"s":2},{"t":2008.62,"v":29.9,"s":2},{"t":2008.66,"v":29.7,"s":2},{"t":2008.70,"v":29.8,"s":2},{"t":2008.74,"v":29.6,"s":2},{"t":2008.78,"v":29.6,"s":2},{"t":2008.82,"v":29.5,"s":2},{"t":2008.86,"v":29.4,"s":2},{"t":2008.90,"v":29.3,"s":2},{"t":2008.94,"v":29.1,"s":2},{"t":2008.98,"v":29.0,"s":2},
{"t":2009.02,"v":28.8,"s":2},{"t":2009.06,"v":28.6,"s":2},{"t":2009.10,"v":28.4,"s":2},
{"t":2010.14,"v":28.3,"s":3},{"t":2010.18,"v":28.7,"s":3},{"t":2010.22,"v":29.0,"s":3},{"t":2010.26,"v":29.3,"s":3},{"t":2010.30,"v":29.5,"s":3},{"t":2010.34,"v":29.9,"s":3},{"t":2010.38,"v":30.2,"s":3},{"t":2010.42,"v":30.4,"s":3},{"t":2010.46,"v":30.2,"s":3},{"t":2010.50,"v":30.5,"s":3},{"t":2010.54,"v":30.3,"s":3},{"t":2010.58,"v":30.4,"s":3},{"t":2010.62,"v":30.1,"s":3},{"t":2010.66,"v":30.3,"s":3},{"t":2010.70,"v":30.2,"s":3},{"t":2010.74,"v":30.0,"s":3},{"t":2010.78,"v":29.9,"s":3},{"t":2010.82,"v":29.7,"s":3},{"t":2010.86,"v":29.6,"s":3},{"t":2010.90,"v":29.5,"s":3},{"t":2010.94,"v":29.4,"s":3},{"t":2010.98,"v":29.3,"s":3},
{"t":2011.02,"v":29.2,"s":3},{"t":2011.06,"v":29.0,"s":3},{"t":2011.10,"v":28.9,"s":3},{"t":2011.14,"v":28.7,"s":3},{"t":2011.18,"v":28.8,"s":3},{"t":2011.22,"v":29.0,"s":3},{"t":2011.26,"v":29.3,"s":3},{"t":2011.30,"v":29.6,"s":3},{"t":2011.34,"v":29.9,"s":3},{"t":2011.38,"v":30.0,"s":3},{"t":2011.42,"v":29.5,"s":3},{"t":2011.46,"v":29.2,"s":3},{"t":2011.50,"v":29.0,"s":3},{"t":2011.54,"v":28.9,"s":3},{"t":2011.58,"v":28.7,"s":3},{"t":2011.62,"v":28.8,"s":3},{"t":2011.66,"v":29.1,"s":3},{"t":2011.70,"v":29.5,"s":3},{"t":2011.74,"v":29.8,"s":3},{"t":2011.78,"v":30.1,"s":3},{"t":2011.82,"v":29.9,"s":3},{"t":2011.86,"v":29.5,"s":3},{"t":2011.90,"v":29.2,"s":3},{"t":2011.94,"v":29.1,"s":3},{"t":2011.98,"v":28.9,"s":3},
{"t":2012.02,"v":28.8,"s":3},{"t":2012.06,"v":28.7,"s":3},{"t":2012.10,"v":28.6,"s":3},{"t":2012.14,"v":28.5,"s":3},{"t":2012.18,"v":28.4,"s":3},{"t":2012.22,"v":28.5,"s":3},{"t":2012.26,"v":29.0,"s":3},{"t":2012.30,"v":29.5,"s":3},{"t":2012.34,"v":29.9,"s":3},{"t":2012.38,"v":30.1,"s":3},{"t":2012.42,"v":29.6,"s":3},{"t":2012.46,"v":29.4,"s":3},{"t":2012.50,"v":29.3,"s":3},{"t":2012.54,"v":29.1,"s":3},{"t":2012.58,"v":29.0,"s":3},{"t":2012.62,"v":28.9,"s":3},{"t":2012.66,"v":28.8,"s":3},{"t":2012.70,"v":29.0,"s":3},{"t":2012.74,"v":29.2,"s":3},{"t":2012.78,"v":28.9,"s":3},{"t":2012.82,"v":29.1,"s":3},{"t":2012.86,"v":28.9,"s":3},{"t":2012.90,"v":28.8,"s":3},{"t":2012.94,"v":28.9,"s":3},{"t":2012.98,"v":28.6,"s":3},
{"t":2013.02,"v":28.4,"s":3},{"t":2013.06,"v":28.5,"s":3},{"t":2013.10,"v":28.3,"s":3},{"t":2013.14,"v":28.5,"s":3},{"t":2013.18,"v":28.9,"s":3},{"t":2013.22,"v":29.3,"s":3},{"t":2013.26,"v":29.6,"s":3},{"t":2013.30,"v":29.9,"s":3},{"t":2013.34,"v":30.0,"s":3},{"t":2013.38,"v":29.8,"s":3},{"t":2013.42,"v":29.7,"s":3},{"t":2013.46,"v":29.6,"s":3},{"t":2013.50,"v":29.4,"s":3},{"t":2013.54,"v":29.3,"s":3},{"t":2013.58,"v":29.4,"s":3},{"t":2013.62,"v":29.1,"s":3},{"t":2013.66,"v":29.2,"s":3},{"t":2013.70,"v":29.0,"s":3},{"t":2013.74,"v":29.1,"s":3},{"t":2013.78,"v":28.9,"s":3},{"t":2013.82,"v":29.0,"s":3},{"t":2013.86,"v":28.8,"s":3},{"t":2013.90,"v":28.6,"s":3},{"t":2013.94,"v":28.5,"s":3},{"t":2013.98,"v":28.3,"s":3},
{"t":2014.02,"v":28.2,"s":3},{"t":2014.06,"v":28.3,"s":3},{"t":2014.10,"v":28.0,"s":3},{"t":2014.14,"v":28.1,"s":3},{"t":2014.18,"v":28.5,"s":3},{"t":2014.22,"v":28.9,"s":3},{"t":2014.26,"v":29.3,"s":3},{"t":2014.30,"v":29.6,"s":3},{"t":2014.34,"v":29.9,"s":3},{"t":2014.38,"v":30.3,"s":3},{"t":2014.42,"v":30.6,"s":3},{"t":2014.46,"v":30.4,"s":3},{"t":2014.50,"v":29.7,"s":3},{"t":2014.54,"v":29.3,"s":3},{"t":2014.58,"v":29.4,"s":3},{"t":2014.62,"v":29.0,"s":3},{"t":2014.66,"v":28.9,"s":3},{"t":2014.70,"v":29.0,"s":3},{"t":2014.74,"v":28.5,"s":3},{"t":2014.78,"v":28.3,"s":3},{"t":2014.82,"v":28.9,"s":3},{"t":2014.86,"v":29.4,"s":3},{"t":2014.90,"v":29.7,"s":3},{"t":2014.94,"v":29.3,"s":3},{"t":2014.98,"v":29.0,"s":3},
{"t":2015.02,"v":28.8,"s":3},{"t":2015.06,"v":28.4,"s":3},{"t":2015.10,"v":27.9,"s":3},{"t":2015.14,"v":27.5,"s":3},{"t":2015.18,"v":27.6,"s":3},{"t":2015.22,"v":28.1,"s":3},{"t":2015.26,"v":28.6,"s":3},{"t":2015.30,"v":29.0,"s":3},{"t":2015.34,"v":29.4,"s":3},{"t":2015.38,"v":29.7,"s":3},{"t":2015.42,"v":30.1,"s":3},{"t":2015.46,"v":29.6,"s":3},{"t":2015.50,"v":29.2,"s":3},{"t":2015.54,"v":28.9,"s":3},{"t":2015.58,"v":28.7,"s":3},{"t":2015.62,"v":29.0,"s":3},{"t":2015.66,"v":28.8,"s":3},{"t":2015.70,"v":29.0,"s":3},{"t":2015.74,"v":28.8,"s":3},{"t":2015.78,"v":29.0,"s":3},{"t":2015.82,"v":28.9,"s":3},{"t":2015.86,"v":29.2,"s":3},{"t":2015.90,"v":29.4,"s":3},{"t":2015.94,"v":29.0,"s":3},{"t":2015.98,"v":28.6,"s":3},
{"t":2016.02,"v":28.3,"s":3},{"t":2016.06,"v":28.0,"s":3},{"t":2016.10,"v":27.8,"s":3},{"t":2016.14,"v":27.8,"s":3},{"t":2016.18,"v":28.1,"s":3},{"t":2016.22,"v":28.6,"s":3},{"t":2016.26,"v":29.0,"s":3},{"t":2016.30,"v":29.3,"s":3},{"t":2016.34,"v":29.6,"s":3},{"t":2016.38,"v":29.9,"s":3},
{"t":2016.82,"v":29.4,"s":4},{"t":2016.86,"v":29.6,"s":4},{"t":2016.90,"v":29.3,"s":4},{"t":2016.94,"v":29.4,"s":4},{"t":2016.98,"v":29.2,"s":4},{"t":2017.02,"v":29.3,"s":4},{"t":2017.06,"v":28.9,"s":4},{"t":2017.10,"v":28.5,"s":4},{"t":2017.14,"v":28.2,"s":4},{"t":2017.18,"v":28.5,"s":4},{"t":2017.22,"v":28.9,"s":4},{"t":2017.26,"v":29.0,"s":4},{"t":2017.30,"v":29.2,"s":4},{"t":2017.34,"v":29.5,"s":4},{"t":2017.38,"v":29.8,"s":4},{"t":2017.42,"v":29.9,"s":4},{"t":2017.46,"v":30.0,"s":4},{"t":2017.50,"v":30.1,"s":4}
],
"wc": [
{"t":2006.98,"v":28.9,"s":1},{"t":2007.02,"v":28.2,"s":1},{"t":2007.06,"v":27.8,"s":1},{"t":2007.10,"v":28.1,"s":1},{"t":2007.14,"v":27.6,"s":1},{"t":2007.18,"v":27.9,"s":1},{"t":2007.22,"v":27.3,"s":1},{"t":2007.26,"v":28.4,"s":1},{"t":2007.30,"v":29.0,"s":1},{"t":2007.34,"v":29.4,"s":1},{"t":2007.38,"v":29.7,"s":1},{"t":2007.42,"v":29.9,"s":1},{"t":2007.46,"v":29.6,"s":1},{"t":2007.50,"v":29.3,"s":1},{"t":2007.54,"v":28.8,"s":1},{"t":2007.58,"v":28.5,"s":1},{"t":2007.62,"v":29.3,"s":1},{"t":2007.66,"v":29.9,"s":1},{"t":2007.70,"v":30.1,"s":1},{"t":2007.74,"v":29.7,"s":1},
{"t":2014.50,"v":29.5,"s":2},{"t":2014.54,"v":29.0,"s":2},{"t":2014.58,"v":29.3,"s":2},{"t":2014.62,"v":28.8,"s":2},{"t":2014.66,"v":29.2,"s":2},{"t":2014.70,"v":29.0,"s":2},{"t":2014.74,"v":28.6,"s":2},{"t":2014.78,"v":28.4,"s":2},{"t":2014.82,"v":29.1,"s":2},{"t":2014.86,"v":29.6,"s":2},{"t":2014.90,"v":29.8,"s":2},{"t":2014.94,"v":29.3,"s":2},{"t":2014.98,"v":28.9,"s":2},{"t":2015.02,"v":28.7,"s":2},{"t":2015.06,"v":28.1,"s":2},{"t":2015.10,"v":27.5,"s":2},{"t":2015.14,"v":27.0,"s":2},{"t":2015.18,"v":27.2,"s":2},{"t":2015.22,"v":27.9,"s":2},{"t":2015.26,"v":28.5,"s":2},{"t":2015.30,"v":29.0,"s":2},{"t":2015.34,"v":29.4,"s":2},{"t":2015.38,"v":29.9,"s":2},{"t":2015.42,"v":30.3,"s":2},{"t":2015.46,"v":29.6,"s":2},{"t":2015.50,"v":29.1,"s":2},{"t":2015.54,"v":28.9,"s":2},{"t":2015.58,"v":28.4,"s":2},{"t":2015.62,"v":29.0,"s":2},{"t":2015.66,"v":28.8,"s":2},{"t":2015.70,"v":29.1,"s":2},{"t":2015.74,"v":28.7,"s":2},{"t":2015.78,"v":29.0,"s":2},{"t":2015.82,"v":28.8,"s":2},{"t":2015.86,"v":29.2,"s":2},{"t":2015.90,"v":29.4,"s":2},{"t":2015.94,"v":29.0,"s":2},{"t":2015.98,"v":28.4,"s":2},{"t":2016.02,"v":28.0,"s":2},{"t":2016.06,"v":27.5,"s":2},{"t":2016.10,"v":26.8,"s":2},{"t":2016.14,"v":27.1,"s":2},{"t":2016.18,"v":27.8,"s":2},{"t":2016.22,"v":28.5,"s":2},{"t":2016.26,"v":28.9,"s":2},{"t":2016.30,"v":29.3,"s":2},{"t":2016.34,"v":29.6,"s":2},{"t":2016.38,"v":29.9,"s":2},{"t":2016.42,"v":30.3,"s":2},{"t":2016.46,"v":30.7,"s":2},{"t":2016.50,"v":30.2,"s":2},{"t":2016.54,"v":30.0,"s":2},{"t":2016.58,"v":29.9,"s":2},{"t":2016.62,"v":29.7,"s":2},{"t":2016.66,"v":29.9,"s":2},{"t":2016.70,"v":29.5,"s":2},{"t":2016.74,"v":29.6,"s":2},{"t":2016.78,"v":29.4,"s":2},{"t":2016.82,"v":29.5,"s":2},{"t":2016.86,"v":29.3,"s":2},{"t":2016.90,"v":29.2,"s":2},{"t":2016.94,"v":29.3,"s":2},{"t":2016.98,"v":29.0,"s":2},{"t":2017.02,"v":29.2,"s":2}
],
"lab": [{"t": 1998.78, "v": 26.65, "lab": "a", "p": "a"}, {"t": 1998.83, "v": 26.6, "lab": "b", "p": "b"}, {"t": 1998.72, "v": 26.6, "lab": "c", "p": "c"}]
},
"vconcat": [
{
  "title": "Short Drop Off",
  "width": 891, "height": 158,
  "resolve": {"axis": {"x": "independent", "y": "independent"}},
  "layer": [
    {"data": {"name": "ct"}, "mark": {"type": "line", "color": "#0072BD", "strokeWidth": 1.6, "clip": true},
     "encoding": {
       "x": {"field": "t", "type": "quantitative", "scale": {"domain": [1998, 2018], "nice": false, "zero": false}, "axis": {"orient": "bottom", "values": [1998,2000,2002,2004,2006,2008,2010,2012,2014,2016,2018], "format": "d", "title": null}},
       "y": {"field": "v", "type": "quantitative", "scale": {"domain": [25.5, 31.45], "nice": false, "zero": false}, "axis": {"orient": "left", "values": [26,28,30], "title": "SSTA (°C)"}}}},
    {"data": {"name": "sdo"}, "mark": {"type": "line", "color": "black", "strokeWidth": 1, "clip": true},
     "encoding": {"x": {"field": "t", "type": "quantitative", "axis": null}, "y": {"field": "v", "type": "quantitative", "axis": null}, "detail": {"field": "s", "type": "nominal"}}},
    {"data": {"name": "lab"}, "transform": [{"filter": "datum.p == 'a'"}], "mark": {"type": "text", "fontSize": 20, "fontWeight": "bold", "color": "black", "font": "Liberation Sans"},
     "encoding": {"x": {"field": "t", "type": "quantitative", "axis": {"orient": "top", "values": [1998,2000,2002,2004,2006,2008,2010,2012,2014,2016,2018], "labels": false, "grid": false, "title": null, "labelPadding": 0}}, "y": {"field": "v", "type": "quantitative", "axis": {"orient": "right", "values": [26,28,30], "labels": false, "grid": false, "title": null, "labelPadding": 0}}, "text": {"field": "lab"}}}
  ]
},
{
  "title": "Ulong Rock",
  "width": 891, "height": 158,
  "resolve": {"axis": {"x": "independent", "y": "independent"}},
  "layer": [
    {"data": {"name": "ct"}, "mark": {"type": "line", "color": "#D95319", "strokeWidth": 1.6, "clip": true},
     "encoding": {
       "x": {"field": "t", "type": "quantitative", "scale": {"domain": [1998, 2018], "nice": false, "zero": false}, "axis": {"orient": "bottom", "values": [1998,2000,2002,2004,2006,2008,2010,2012,2014,2016,2018], "format": "d", "title": null}},
       "y": {"field": "v", "type": "quantitative", "scale": {"domain": [25.5, 31.45], "nice": false, "zero": false}, "axis": {"orient": "left", "values": [26,28,30], "title": "SSTA (°C)"}}}},
    {"data": {"name": "ul"}, "mark": {"type": "line", "color": "black", "strokeWidth": 1, "clip": true},
     "encoding": {"x": {"field": "t", "type": "quantitative", "axis": null}, "y": {"field": "v", "type": "quantitative", "axis": null}, "detail": {"field": "s", "type": "nominal"}}},
    {"data": {"name": "lab"}, "transform": [{"filter": "datum.p == 'b'"}], "mark": {"type": "text", "fontSize": 20, "fontWeight": "bold", "color": "black", "font": "Liberation Sans"},
     "encoding": {"x": {"field": "t", "type": "quantitative", "axis": {"orient": "top", "values": [1998,2000,2002,2004,2006,2008,2010,2012,2014,2016,2018], "labels": false, "grid": false, "title": null, "labelPadding": 0}}, "y": {"field": "v", "type": "quantitative", "axis": {"orient": "right", "values": [26,28,30], "labels": false, "grid": false, "title": null, "labelPadding": 0}}, "text": {"field": "lab"}}}
  ]
},
{
  "title": "West Channel",
  "width": 891, "height": 158,
  "resolve": {"axis": {"x": "independent", "y": "independent"}},
  "layer": [
    {"data": {"name": "ct"}, "mark": {"type": "line", "strokeWidth": 1.6, "clip": true},
     "encoding": {
       "x": {"field": "t", "type": "quantitative", "scale": {"domain": [1998, 2018], "nice": false, "zero": false}, "axis": {"orient": "bottom", "values": [1998,2000,2002,2004,2006,2008,2010,2012,2014,2016,2018], "format": "d", "title": null}},
       "y": {"field": "v", "type": "quantitative", "scale": {"domain": [25.5, 31.45], "nice": false, "zero": false}, "axis": {"orient": "left", "values": [26,28,30], "title": "SSTA (°C)"}},
       "color": {"datum": "CoralTemp", "type": "nominal", "scale": {"domain": ["CoralTemp", "Obs @ 2 m"], "range": ["#EDB120", "black"]},
         "legend": {"orient": "none", "legendX": 377, "legendY": 118, "direction": "horizontal", "title": null, "symbolType": "stroke", "symbolSize": 2116, "symbolStrokeWidth": 1.5, "clipHeight": 20, "labelFontSize": 19, "labelColor": "black", "labelFont": "Liberation Sans", "strokeColor": "#262626", "fillColor": "white", "padding": 4, "columnPadding": 10, "labelOffset": 5, "labelLimit": 300}}}},
    {"data": {"name": "wc"}, "mark": {"type": "line", "strokeWidth": 1, "clip": true},
     "encoding": {"x": {"field": "t", "type": "quantitative", "axis": null}, "y": {"field": "v", "type": "quantitative", "axis": null}, "detail": {"field": "s", "type": "nominal"}, "color": {"datum": "Obs @ 2 m", "type": "nominal"}}},
    {"data": {"name": "lab"}, "transform": [{"filter": "datum.p == 'c'"}], "mark": {"type": "text", "fontSize": 20, "fontWeight": "bold", "color": "black", "font": "Liberation Sans"},
     "encoding": {"x": {"field": "t", "type": "quantitative", "axis": {"orient": "top", "values": [1998,2000,2002,2004,2006,2008,2010,2012,2014,2016,2018], "labels": false, "grid": false, "title": null, "labelPadding": 0}}, "y": {"field": "v", "type": "quantitative", "axis": {"orient": "right", "values": [26,28,30], "labels": false, "grid": false, "title": null, "labelPadding": 0}}, "text": {"field": "lab"}}}
  ]
}
]
}
